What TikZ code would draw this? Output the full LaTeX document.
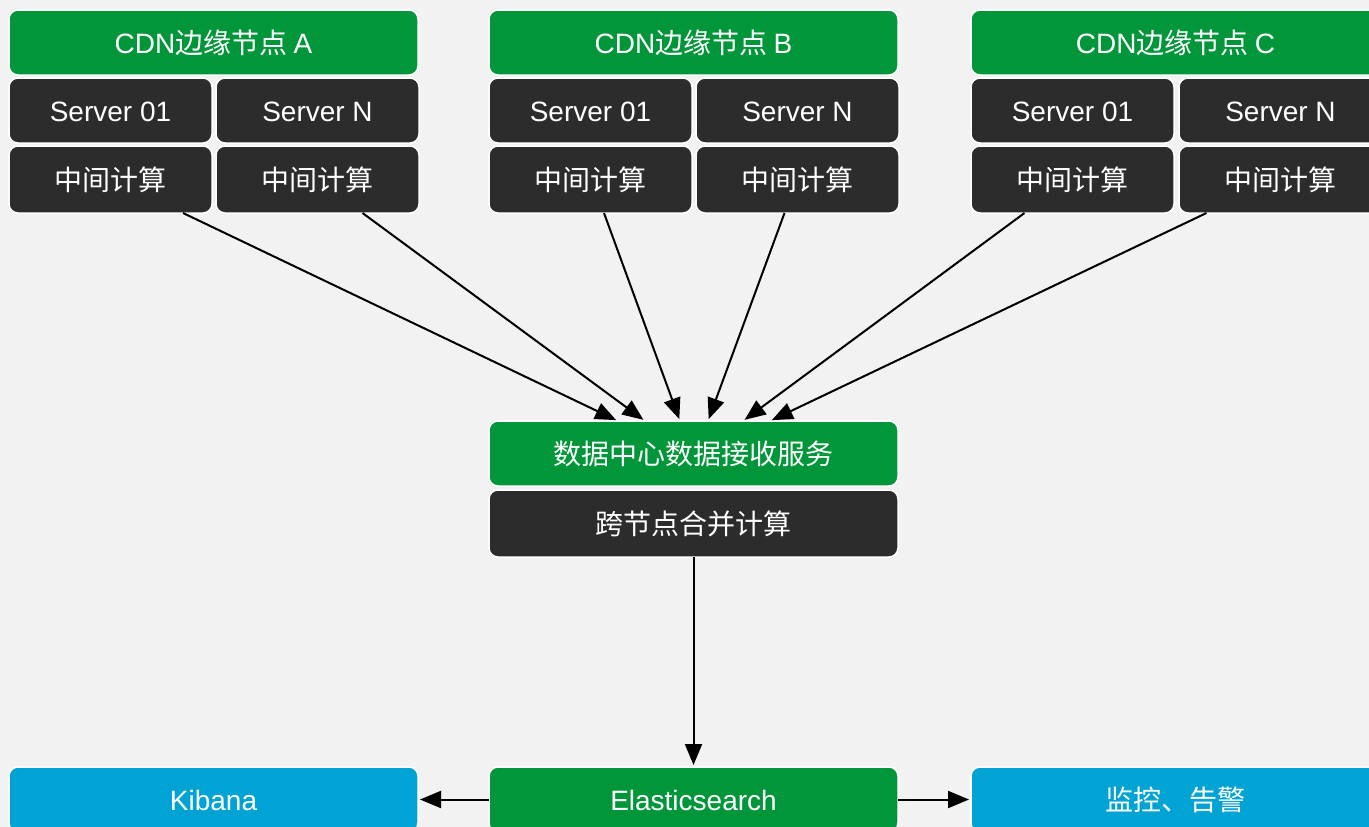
\documentclass[tikz,border=0pt]{standalone}
\usepackage{fontspec}
\setmainfont{Noto Sans CJK SC}
\newfontfamily\lat{Liberation Sans}
\usetikzlibrary{arrows.meta}
\definecolor{nodegreen}{RGB}{0,150,57}
\definecolor{nodedark}{RGB}{44,44,44}
\definecolor{nodeblue}{RGB}{0,163,212}
\definecolor{canvas}{RGB}{242,242,242}
\tikzset{
  box/.style={draw=white, line width=1.5pt, rounded corners=9pt, anchor=north west,
    inner sep=0pt, outer sep=0pt, text=white, font=\fontsize{28}{32}\selectfont,
    text height=22.5pt, text depth=0pt},
  head/.style={box, fill=nodegreen, minimum height=65pt},
  cell/.style={box, fill=nodedark},
  sink/.style={box, fill=nodeblue, minimum height=65pt},
  wide/.style={minimum width=409pt},
  half/.style={minimum width=203pt},
  flow/.style={line width=2pt, shorten >=2pt, -{Triangle[length=21pt,width=17pt]}},
}
\begin{document}
\begin{tikzpicture}[x=1pt,y=-1pt]
\useasboundingbox (0,0) rectangle (1369,827);
\clip (0,0) rectangle (1369,827);
\fill[canvas] (0,0) rectangle (1369,827);

% edge node A
\node[head, wide] (aHead) at (9,10) {{\lat CDN}边缘节点 {\lat A}};
\node[cell, half, minimum height=65pt] (aS1) at (9,78) {\lat Server 01};
\node[cell, half, minimum height=65pt] (aSN) at (216,78) {\lat Server N};
\node[cell, half, minimum height=67pt] (aC1) at (9,146) {中间计算};
\node[cell, half, minimum height=67pt] (aCN) at (216,146) {中间计算};

% edge node B
\node[head, wide] (bHead) at (489,10) {{\lat CDN}边缘节点 {\lat B}};
\node[cell, half, minimum height=65pt] (bS1) at (489,78) {\lat Server 01};
\node[cell, half, minimum height=65pt] (bSN) at (696,78) {\lat Server N};
\node[cell, half, minimum height=67pt] (bC1) at (489,146) {中间计算};
\node[cell, half, minimum height=67pt] (bCN) at (696,146) {中间计算};

% edge node C
\node[head, wide] (cHead) at (971,10) {{\lat CDN}边缘节点 {\lat C}};
\node[cell, half, minimum height=65pt] (cS1) at (971,78) {\lat Server 01};
\node[cell, half, minimum height=65pt] (cSN) at (1179,78) {\lat Server N};
\node[cell, half, minimum height=67pt] (cC1) at (971,146) {中间计算};
\node[cell, half, minimum height=67pt] (cCN) at (1179,146) {中间计算};

% data centre
\node[head, wide] (hub) at (489,421) {数据中心数据接收服务};
\node[cell, wide, minimum height=67pt] (merge) at (489,490) {跨节点合并计算};

% storage and consumers
\node[head, wide] (es) at (489,767) {\lat Elasticsearch};
\node[sink, wide] (kib) at (9,767) {\lat Kibana};
\node[sink, wide] (mon) at (971,767) {监控、告警};

% edge results flowing into the data centre
\draw[flow] ([xshift=72.5pt]aC1.south) -- ([xshift=-75.5pt]hub.north);
\draw[flow] ([xshift=45pt]aCN.south) -- ([xshift=-48.5pt]hub.north);
\draw[flow] ([xshift=13.5pt]bC1.south) -- ([xshift=-13.5pt]hub.north);
\draw[flow] ([xshift=-13pt]bCN.south) -- ([xshift=14.5pt]hub.north);
\draw[flow] ([xshift=-48pt]cC1.south) -- ([xshift=49.5pt]hub.north);
\draw[flow] ([xshift=-74pt]cCN.south) -- ([xshift=76.5pt]hub.north);

% merged output to storage and on to consumers
\draw[flow] (merge.south) -- (es.north);
\draw[flow] (es.west) -- (kib.east);
\draw[flow] (es.east) -- (mon.west);
\end{tikzpicture}
\end{document}
